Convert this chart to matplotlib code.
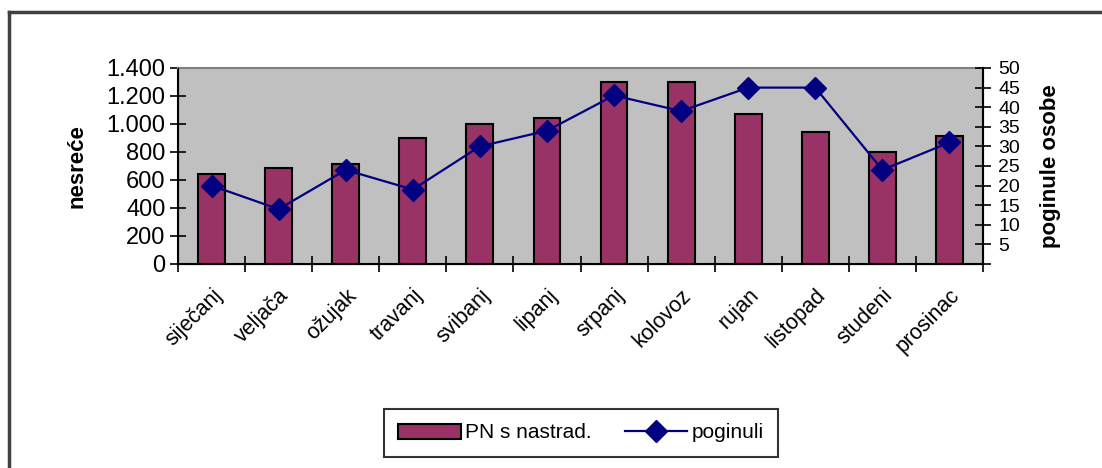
import matplotlib.pyplot as plt
from matplotlib.lines import Line2D
import numpy as np

plt.rcParams['font.family'] = ['Liberation Sans', 'DejaVu Sans']

mjeseci = ["siječanj", "veljača", "ožujak", "travanj", "svibanj", "lipanj",
           "srpanj", "kolovoz", "rujan", "listopad", "studeni", "prosinac"]
nesrece = [640, 684, 714, 898, 1000, 1043, 1300, 1300, 1071, 943, 798, 914]
poginuli = [20, 14, 24, 19, 30, 34, 43, 39, 45, 45, 24, 31]

lijevi_ticks = [0, 200, 400, 600, 800, 1000, 1200, 1400]
lijevi_labels = ["0", "200", "400", "600", "800", "1.000", "1.200", "1.400"]
desni_ticks = [0, 5, 10, 15, 20, 25, 30, 35, 40, 45, 50]
desni_labels = ["", "5", "10", "15", "20", "25", "30", "35", "40", "45", "50"]

fig = plt.figure(figsize=(11.02, 4.68), dpi=100)
ax1 = fig.add_axes([178 / 1102, 1 - 264 / 468, 805 / 1102, 196 / 468])
ax1.set_facecolor("#c0c0c0")

x = np.arange(len(mjeseci))
bars = ax1.bar(x, nesrece, width=0.4, color="#993366", edgecolor="black",
               linewidth=1.5, label="PN s nastrad.", zorder=2)
ax1.set_xlim(-0.5, len(mjeseci) - 0.5)
ax1.set_ylim(0, 1400)
ax1.set_yticks(lijevi_ticks)
ax1.set_yticklabels(lijevi_labels)
ax1.tick_params(axis='y', direction='inout', length=12, width=1.2,
                labelsize=17, pad=3)
ax1.set_ylabel("nesreće", fontsize=16, fontweight='bold', labelpad=14)

# kategorije - oznake u sredini, crtice na granicama
ax1.set_xticks(x)
ax1.set_xticklabels(mjeseci, rotation=45, ha='right', rotation_mode='anchor',
                    fontsize=15.5)
ax1.set_xticks(np.arange(len(mjeseci) + 1) - 0.5, minor=True)
ax1.tick_params(axis='x', which='major', length=0, pad=15)
ax1.tick_params(axis='x', which='minor', direction='inout', length=12, width=1.2)

for s in ["left", "bottom", "right"]:
    ax1.spines[s].set_color("black")
    ax1.spines[s].set_linewidth(1.5)
ax1.spines["top"].set_color("#808080")
ax1.spines["top"].set_linewidth(1.5)

ax2 = ax1.twinx()
line, = ax2.plot(x, poginuli, color="#000080", marker="D", markersize=11,
                 linewidth=1.6, label="poginuli", zorder=3)
ax2.set_ylim(0, 50)
ax2.set_yticks(desni_ticks)
ax2.set_yticklabels(desni_labels)
ax2.tick_params(axis='y', direction='inout', length=12, width=1.2,
                labelsize=14, pad=5)
ax2.set_ylabel("poginule osobe", fontsize=16, fontweight='bold', rotation=90,
               labelpad=14)
ax2.spines["right"].set_linewidth(1.5)
ax2.spines["top"].set_visible(False)

leg = fig.legend([bars, line], ["PN s nastrad.", "poginuli"], ncol=2,
                 loc='center', bbox_to_anchor=(581 / 1102, 1 - 433 / 468),
                 fontsize=15, frameon=True, fancybox=False, edgecolor="black",
                 handlelength=3, handletextpad=0.2, columnspacing=1.6,
                 borderpad=0.7)
leg.get_frame().set_linewidth(1.5)

# okvir grafikona
fig.add_artist(Line2D([9 / 1102, 9 / 1102], [0, 1 - 12 / 468], color="#404040",
                      linewidth=2.5, transform=fig.transFigure))
fig.add_artist(Line2D([9 / 1102, 1], [1 - 12 / 468, 1 - 12 / 468], color="#404040",
                      linewidth=2.5, transform=fig.transFigure))

fig.savefig("out.png", dpi=100)
